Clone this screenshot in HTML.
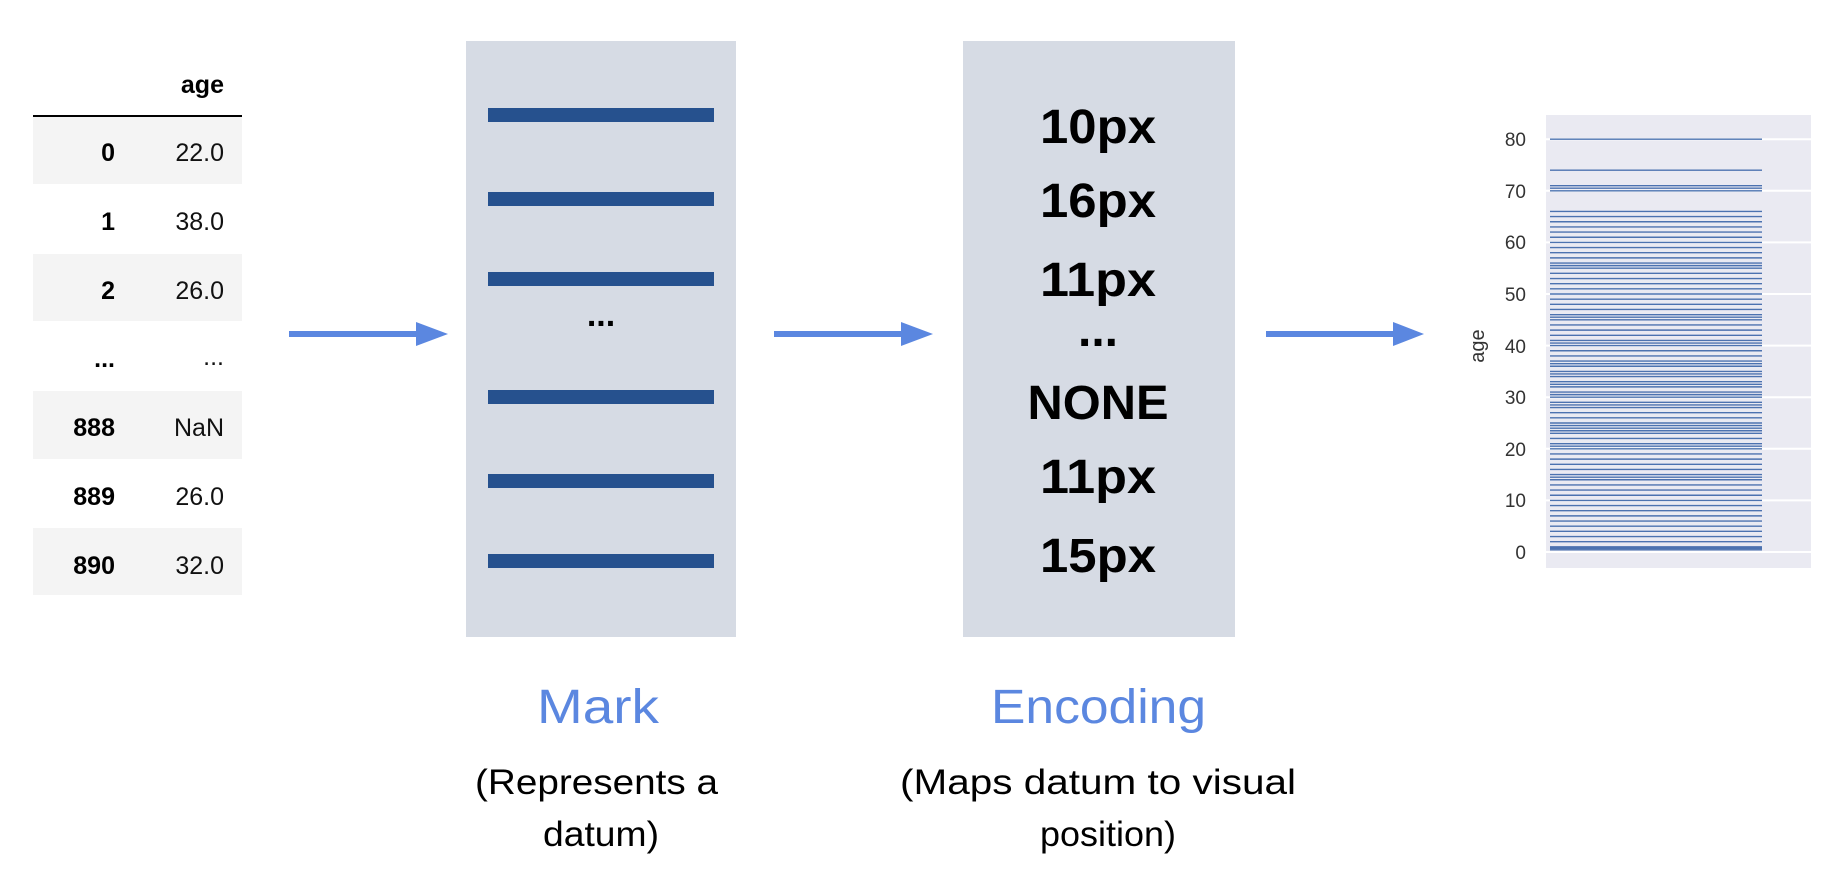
<!DOCTYPE html>
<html><head><meta charset="utf-8"><style>
html,body{margin:0;padding:0;background:#fff;width:1826px;height:882px;overflow:hidden}
svg{display:block}
text{font-family:"Liberation Sans",sans-serif}
</style></head><body>
<svg width="1826" height="882" viewBox="0 0 1826 882" xmlns="http://www.w3.org/2000/svg">
<!-- table -->
<g>
<rect x="33" y="117" width="209" height="67" fill="#f4f4f4"/>
<rect x="33" y="254" width="209" height="67" fill="#f4f4f4"/>
<rect x="33" y="391" width="209" height="68" fill="#f4f4f4"/>
<rect x="33" y="528" width="209" height="67" fill="#f4f4f4"/>
<line x1="33" y1="116" x2="242" y2="116" stroke="#000" stroke-width="2"/>
<text x="224" y="93" font-size="25" font-weight="bold" text-anchor="end">age</text>
<g font-size="25" font-weight="bold" text-anchor="end">
<text x="115" y="161">0</text><text x="115" y="230">1</text><text x="115" y="299">2</text>
<text x="115" y="367">...</text><text x="115" y="436">888</text><text x="115" y="505">889</text><text x="115" y="574">890</text>
</g>
<g font-size="25" text-anchor="end" fill="#111">
<text x="224" y="161">22.0</text><text x="224" y="230">38.0</text><text x="224" y="299">26.0</text>
<text x="224" y="365">...</text><text x="224" y="436">NaN</text><text x="224" y="505">26.0</text><text x="224" y="574">32.0</text>
</g>
</g>
<!-- arrows -->
<g fill="#5b87e0">
<rect x="289" y="331" width="130" height="6"/><polygon points="416,322 448,334 416,346"/>
<rect x="774" y="331" width="130" height="6"/><polygon points="901,322 933,334 901,346"/>
<rect x="1266" y="331" width="130" height="6"/><polygon points="1393,322 1424,334 1393,346"/>
</g>
<!-- mark box -->
<rect x="466" y="41" width="270" height="596" fill="#d6dbe4"/>
<g fill="#26518e">
<rect x="488" y="108" width="226" height="14"/>
<rect x="488" y="192" width="226" height="14"/>
<rect x="488" y="272" width="226" height="14"/>
<rect x="488" y="390" width="226" height="14"/>
<rect x="488" y="474" width="226" height="14"/>
<rect x="488" y="554" width="226" height="14"/>
</g>
<text x="601" y="326" font-size="34" font-weight="bold" text-anchor="middle">...</text>
<!-- encoding box -->
<rect x="963" y="41" width="272" height="596" fill="#d6dbe4"/>
<g font-size="48" font-weight="bold" text-anchor="middle" lengthAdjust="spacingAndGlyphs">
<text x="1098" y="143" textLength="116" lengthAdjust="spacingAndGlyphs">10px</text>
<text x="1098" y="217" textLength="116" lengthAdjust="spacingAndGlyphs">16px</text>
<text x="1098" y="296" textLength="116" lengthAdjust="spacingAndGlyphs">11px</text>
<text x="1098" y="346">...</text>
<text x="1098" y="419" textLength="141" lengthAdjust="spacingAndGlyphs">NONE</text>
<text x="1098" y="493" textLength="116" lengthAdjust="spacingAndGlyphs">11px</text>
<text x="1098" y="572" textLength="116" lengthAdjust="spacingAndGlyphs">15px</text>
</g>
<!-- labels -->
<g fill="#5b87e0" font-size="48">
<text x="537" y="723" textLength="122" lengthAdjust="spacingAndGlyphs">Mark</text>
<text x="991" y="723" textLength="215" lengthAdjust="spacingAndGlyphs">Encoding</text>
</g>
<g font-size="35">
<text x="475" y="794" textLength="243" lengthAdjust="spacingAndGlyphs">(Represents a</text>
<text x="543" y="846" textLength="116" lengthAdjust="spacingAndGlyphs">datum)</text>
<text x="900" y="794" textLength="396" lengthAdjust="spacingAndGlyphs">(Maps datum to visual</text>
<text x="1040" y="846" textLength="136" lengthAdjust="spacingAndGlyphs">position)</text>
</g>
<!-- chart -->
<rect x="1546" y="115" width="265" height="453" fill="#eaeaf2"/>
<g stroke="#fff" stroke-width="2">
<line x1="1546" y1="552" x2="1811" y2="552"/><line x1="1546" y1="500.4" x2="1811" y2="500.4"/>
<line x1="1546" y1="448.8" x2="1811" y2="448.8"/><line x1="1546" y1="397.2" x2="1811" y2="397.2"/>
<line x1="1546" y1="345.6" x2="1811" y2="345.6"/><line x1="1546" y1="294" x2="1811" y2="294"/>
<line x1="1546" y1="242.4" x2="1811" y2="242.4"/><line x1="1546" y1="190.8" x2="1811" y2="190.8"/>
<line x1="1546" y1="139.2" x2="1811" y2="139.2"/>
</g>
<g id="ages" stroke="#4c72b0" stroke-width="1.4"></g>
<g font-size="19" fill="#333" text-anchor="end">
<text x="1526" y="559">0</text><text x="1526" y="507">10</text><text x="1526" y="456">20</text>
<text x="1526" y="404">30</text><text x="1526" y="353">40</text><text x="1526" y="301">50</text>
<text x="1526" y="249">60</text><text x="1526" y="198">70</text><text x="1526" y="146">80</text>
</g>
<text x="0" y="0" font-size="20" fill="#333" text-anchor="middle" transform="translate(1484,346) rotate(-90)">age</text>
</svg>
<script>
(function(){
var a=[80,74,71,70.5,70,66,65,64,63,62,61,60,59,58,57,56,55.5,55,54,53,52,51,50,49,48,47,46,45.5,45,44,43,42,41,40.5,40,39,38,37,36.5,36,35,34.5,34,33,32.5,32,31,30.5,30,29,28.5,28,27,26,25,24.5,24,23.5,23,22,21,20.5,20,19,18,17,16,15,14.5,14,13,12,11,10,9,8,7,6,5,4,3,2,1,0.92,0.83,0.75,0.67,0.42];
var g=document.getElementById('ages'),s='';
a.forEach(function(v){var y=552-v*5.16;s+='<line x1="1550" x2="1762" y1="'+y+'" y2="'+y+'"/>';});
g.innerHTML=s;
})();
</script>
</body></html>
